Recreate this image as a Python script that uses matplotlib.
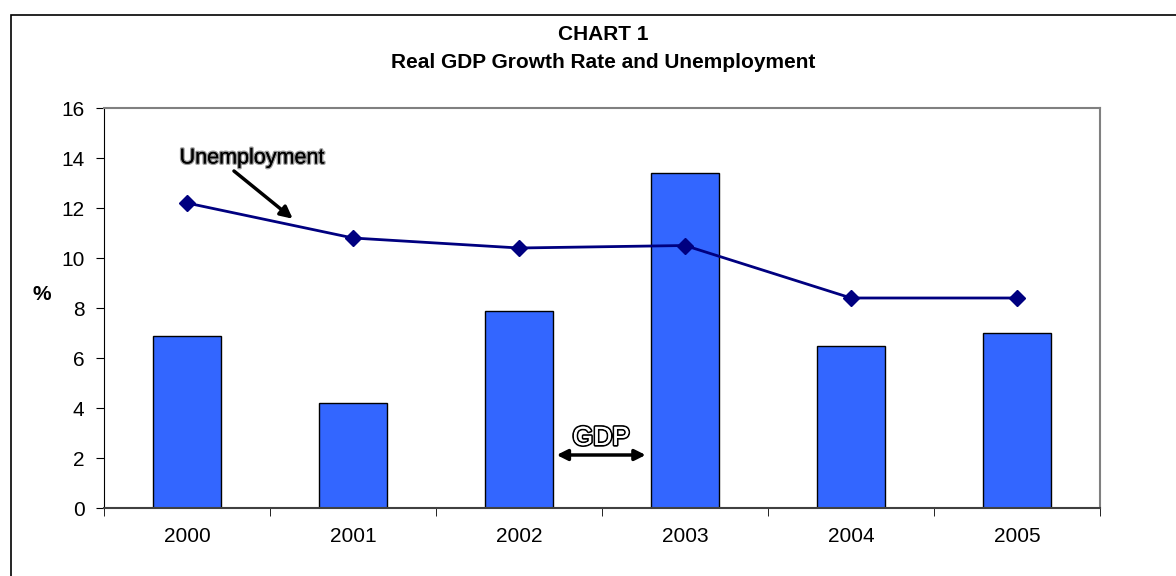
import matplotlib
matplotlib.use("Agg")
import matplotlib.pyplot as plt
import matplotlib.patheffects as pe
from matplotlib.patches import Rectangle

years = ["2000", "2001", "2002", "2003", "2004", "2005"]
gdp = [6.9, 4.2, 7.9, 13.4, 6.5, 7.0]
unemployment = [12.2, 10.8, 10.4, 10.5, 8.4, 8.4]
yticks = [0, 2, 4, 6, 8, 10, 12, 14, 16]

plt.rcParams['font.family'] = ['Liberation Sans', 'DejaVu Sans']

fig = plt.figure(figsize=(11.76, 5.76), dpi=100)
fig.patches.append(Rectangle((11/1176, -0.1), 1.2, 1 - 15/576 + 0.1,
                             transform=fig.transFigure, fill=False,
                             edgecolor='black', linewidth=1.2))
ax = fig.add_axes([104/1176, 68/576, 996/1176, 400/576])

x = list(range(len(years)))
ax.bar(x, gdp, width=0.41, color='#3366FF', edgecolor='black', linewidth=1, zorder=2)
ax.plot(x, unemployment, color='#000080', linewidth=2, marker='D', markersize=8,
        markerfacecolor='#000080', markeredgecolor='#000080', zorder=3)

ax.set_xlim(-0.5, len(years) - 0.5)
ax.set_ylim(0, 16)
ax.set_yticks(yticks)
ax.set_yticklabels([str(v) for v in yticks], fontsize=15)
ax.set_xticks(x)
ax.set_xticklabels(years, fontsize=15)
ax.tick_params(axis='x', length=0, pad=14)
ax.set_xticks([i - 0.5 for i in range(len(years) + 1)], minor=True)
ax.tick_params(axis='x', which='minor', length=6, direction='out', color='black')
ax.tick_params(axis='y', length=6, direction='out', pad=8)

for s in ['top', 'right']:
    ax.spines[s].set_color('#808080')
    ax.spines[s].set_linewidth(1.5)
ax.spines['left'].set_color('black')
ax.spines['bottom'].set_color('#404040')
ax.spines['bottom'].set_linewidth(1.5)

ax.text(-0.062, 0.535, '%', transform=ax.transAxes, fontsize=15, fontweight='bold',
        ha='center', va='center')

fig.text(0.5127, 1 - 34/576, 'CHART 1', ha='center', va='center', fontsize=15, fontweight='bold')
fig.text(0.5127, 1 - 62/576, 'Real GDP Growth Rate and Unemployment', ha='center', va='center',
         fontsize=15, fontweight='bold')

# Unemployment annotation
ax.annotate('', xy=(0.65, 11.5), xytext=(0.27, 13.55),
            arrowprops=dict(arrowstyle='-|>', color='black', lw=2.5, mutation_scale=18))
ax.text(0.39, 14.0, 'Unemployment', fontsize=15.5, ha='center', va='center', color='black',
        path_effects=[pe.withStroke(linewidth=2, foreground='#999999'), pe.Normal()])

# GDP annotation
ax.annotate('', xy=(2.21, 2.12), xytext=(2.78, 2.12),
            arrowprops=dict(arrowstyle='<|-|>', color='black', lw=2.5, mutation_scale=16))
ax.text(2.495, 2.8, 'GDP', fontsize=19, ha='center', va='center', color='white',
        path_effects=[pe.withStroke(linewidth=2.5, foreground='black'), pe.Normal()])

fig.savefig('out.png', dpi=100)
